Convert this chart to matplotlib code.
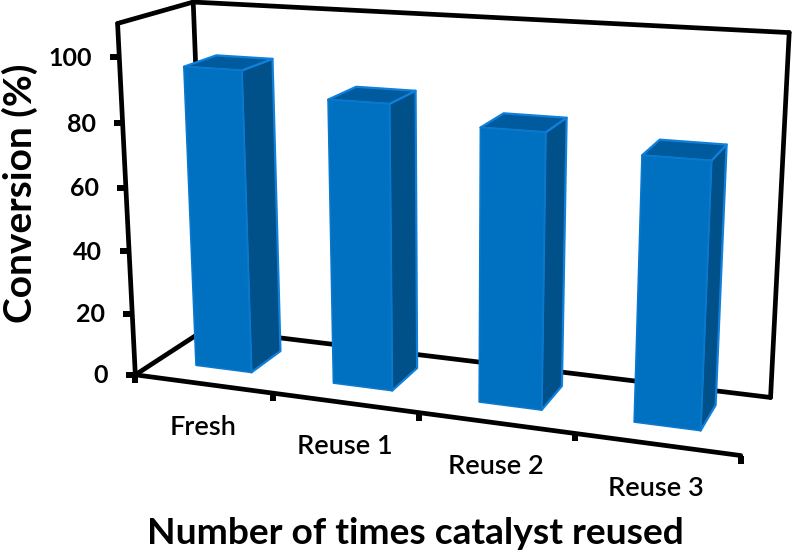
import numpy as np
import matplotlib
matplotlib.use("Agg")
import matplotlib.pyplot as plt
from matplotlib.patches import Polygon

plot_fname = "out.png"

categories = ["Fresh", "Reuse 1", "Reuse 2", "Reuse 3"]
conversion = [95.5, 88.5, 83.5, 79]
yticks = [0, 20, 40, 60, 80, 100]
ymax = 110

xlabel = "Number of times catalyst reused"
ylabel = "Conversion (%)"

# camera of the fake 3d excel chart: (category, depth, value) -> pixel
# fitted on points
calib = [
    (0, 0, 0, 137, 375), (1, 0, 0, 273, 393), (2, 0, 0, 419, 413),
    (3, 0, 0, 577, 434), (4, 0, 0, 739, 455),
    (0, 1, 0, 204, 328), (4, 1, 0, 771, 398),
    (0, 0, 100, 118, 57), (0, 0, ymax, 117, 23),
    (0, 1, ymax, 195, 3), (4, 1, ymax, 789, 32),
]


def fit_camera(pts):
    rows = []
    for x, d, v, px, py in pts:
        p = [x, d, v / 100, 1]
        rows.append(p + [0, 0, 0, 0] + [-px * c for c in p])
        rows.append([0, 0, 0, 0] + p + [-py * c for c in p])
    return np.linalg.svd(np.array(rows, dtype=float))[2][-1].reshape(3, 4)


cam = fit_camera(calib)


def project(x, d, v):
    u = cam @ np.array([x, d, v / 100, 1])
    return u[0] / u[2], u[1] / u[2]


fig = plt.figure(figsize=(7.92, 5.54), dpi=100)
ax = fig.add_axes([0, 0, 1, 1])
ax.set_xlim(0, 792)
ax.set_ylim(554, 0)
ax.axis("off")

fonts = ["Lato", "DejaVu Sans"]


def line(a, b):
    pa = project(*a)
    pb = project(*b)
    ax.plot([pa[0], pb[0]], [pa[1], pb[1]], color="k", lw=3.4,
            solid_capstyle="round")


n = len(categories)
# box
line((0, 0, 0), (0, 0, ymax))
line((0, 0, ymax), (0, 1, ymax))
line((0, 1, 0), (0, 1, ymax))
line((0, 1, ymax), (n, 1, ymax))
line((n, 1, ymax), (n, 1, 0))
line((0, 1, 0), (n, 1, 0))
line((0, 0, 0), (0, 1, 0))
line((0, 0, 0), (n, 0, 0))

# ticks
for v in yticks:
    px, py = project(0, 0, v)
    ax.plot([px - 9, px], [py, py], color="k", lw=4.3, solid_capstyle="butt")
    ax.text(px - 27, py + 1, str(v), ha="right", va="center", fontsize=18,
            fontweight="bold", family=fonts)
for i in range(0, n + 1):
    px, py = project(i, 0, 0)
    ax.plot([px, px], [py, py + 8], color="k", lw=4.3, solid_capstyle="butt")

# bars
x0, x1 = 0.29, 0.70
d0, d1 = 0.30, 0.75
rim = "#0f80dc"
for i, val in enumerate(conversion):
    front = [project(i + x0, d0, 0), project(i + x1, d0, 0),
             project(i + x1, d0, val), project(i + x0, d0, val)]
    side = [project(i + x1, d0, 0), project(i + x1, d1, 0),
            project(i + x1, d1, val), project(i + x1, d0, val)]
    top = [project(i + x0, d0, val), project(i + x1, d0, val),
           project(i + x1, d1, val), project(i + x0, d1, val)]
    ax.add_patch(Polygon(side, fc="#00508a", ec=rim, lw=1.6, joinstyle="round", zorder=3))
    ax.add_patch(Polygon(top, fc="#005a9e", ec=rim, lw=1.6, joinstyle="round", zorder=3))
    ax.add_patch(Polygon(front, fc="#0070c0", ec="#0a78cc", lw=1.2, joinstyle="round", zorder=4))

# category labels, excel puts them a bit off the tick centre
label_dx = [0, 0, 0, -1]
for i, name in enumerate(categories):
    px, py = project(i + 0.5, 0, 0)
    ax.text(px + label_dx[i], py + 44, name, ha="center", va="center",
            fontsize=19.5, fontweight="semibold", family=fonts)

ax.text(415, 533, xlabel, ha="center", va="center", fontsize=26.7,
        fontweight="bold", family=fonts)
ax.text(20, 193, ylabel, ha="center", va="center", rotation=90, fontsize=28,
        fontweight="bold", family=fonts)

plt.savefig(plot_fname, dpi=100)
